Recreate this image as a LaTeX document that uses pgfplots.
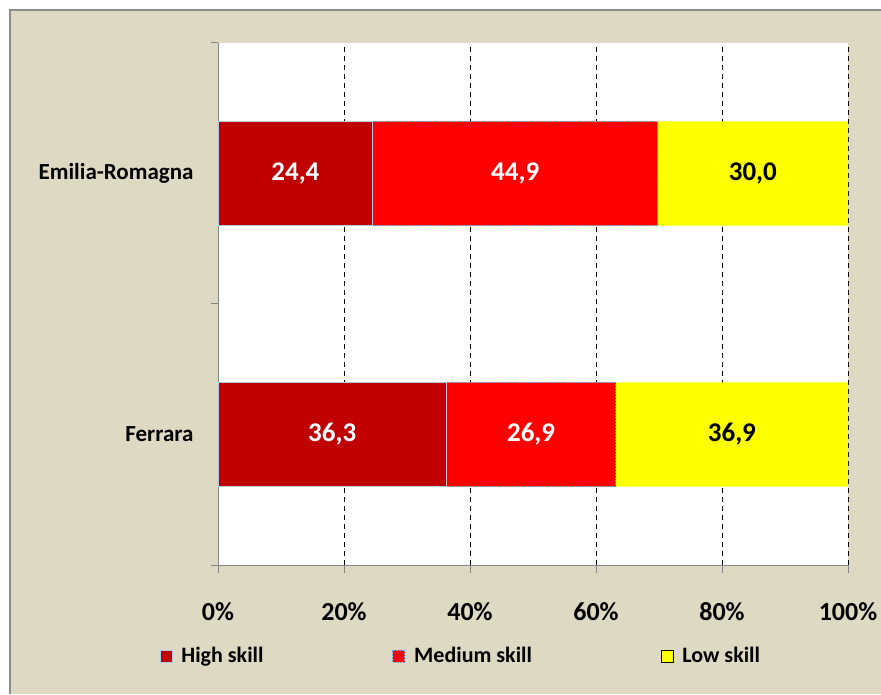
\documentclass[border=0pt]{standalone}
\usepackage{fontspec}
\setmainfont{Carlito}
\usepackage{pgfplots}
\pgfplotsset{compat=1.18}
\definecolor{bgcol}{HTML}{DDD9C3}
\definecolor{framecol}{HTML}{8C8C8C}
\definecolor{axcol}{HTML}{868686}
\definecolor{highcol}{HTML}{C00000}
\definecolor{medcol}{HTML}{FF0000}
\definecolor{lowcol}{HTML}{FFFF00}
\definecolor{edgeblue}{HTML}{7EA1D6}

% shares normalised to 100 (label = value shown in the chart)
\begin{document}
\begin{tikzpicture}
\useasboundingbox (0,0) rectangle (881pt,694pt);
\fill[white] (0,0) rectangle (881pt,694pt);
\fill[bgcol] (10pt,0) rectangle (881pt,684pt);
\draw[framecol, line width=1.5pt] (10pt,0) -- (10pt,684pt) -- (881pt,684pt);
\fill[white] (218pt,129pt) rectangle (848pt,651pt);

\begin{axis}[
  at={(218pt,129pt)}, anchor=south west,
  scale only axis, width=630pt, height=522pt,
  xbar stacked, bar width=0.4,
  xmin=0, xmax=100, ymin=-0.5, ymax=1.5,
  axis x line*=bottom, axis y line*=left,
  axis line style={axcol, line width=1pt, -},
  xtick={0,20,...,100},
  xticklabel={\pgfmathprintnumber[assume math mode=true]{\tick}\%},
  xticklabel style={font=\fontsize{26}{30}\selectfont\bfseries, anchor=center, yshift=-39pt},
  ytick={0,1},
  yticklabels={Ferrara,Emilia-Romagna},
  yticklabel style={font=\fontsize{23}{27}\selectfont\bfseries, anchor=east, xshift=-13pt},
  minor ytick={-0.5,0.5,1.5},
  tick align=outside,
  major tick length=8pt, minor tick length=7pt,
  every major y tick/.append style={draw=none},
  every minor y tick/.append style={axcol, line width=1pt},
  every major x tick/.append style={axcol, line width=1pt},
  xmajorgrids,
  major x grid style={black, line width=1pt, dash pattern=on 5pt off 4pt},
  legend columns=3,
  legend style={at={(-0.093,-0.1743)}, anchor=west, draw=none, fill=none,
    inner sep=0pt, font=\fontsize{22}{26}\selectfont\bfseries,
    /tikz/every odd column/.append style={column sep=7pt},
    /tikz/every even column/.append style={column sep=127pt}},
  legend image code/.code={\draw[#1] (0pt,-6pt) rectangle (12pt,6pt);},
]
\addplot[fill=highcol, draw=edgeblue!60, line width=0.8pt] coordinates {(36.264,0) (24.572,1)};
\addplot[fill=medcol, draw=edgeblue, line width=0.8pt, dash pattern=on 2pt off 1pt] coordinates {(26.873,0) (45.217,1)};
\addplot[fill=lowcol, draw=none] coordinates {(36.863,0) (30.211,1)};
\legend{High skill, Medium skill, Low skill}
\end{axis}

\begin{axis}[
  at={(218pt,129pt)}, anchor=south west,
  scale only axis, width=630pt, height=522pt,
  xmin=0, xmax=100, ymin=-0.5, ymax=1.5,
  hide axis,
]
\addplot[draw=none, mark=none, nodes near coords, point meta=explicit symbolic,
  nodes near coords align=center,
  every node near coord/.append style={anchor=center, text=white,
    font=\fontsize{27}{31}\selectfont\bfseries}]
  coordinates {(18.132,0) [36,3] (12.286,1) [24,4]};
\addplot[draw=none, mark=none, nodes near coords, point meta=explicit symbolic,
  nodes near coords align=center,
  every node near coord/.append style={anchor=center, text=white,
    font=\fontsize{27}{31}\selectfont\bfseries}]
  coordinates {(49.701,0) [26,9] (47.180,1) [44,9]};
\addplot[draw=none, mark=none, nodes near coords, point meta=explicit symbolic,
  nodes near coords align=center,
  every node near coord/.append style={anchor=center, text=black,
    font=\fontsize{27}{31}\selectfont\bfseries}]
  coordinates {(81.568,0) [36,9] (84.894,1) [30,0]};
\end{axis}
\end{tikzpicture}
\end{document}
